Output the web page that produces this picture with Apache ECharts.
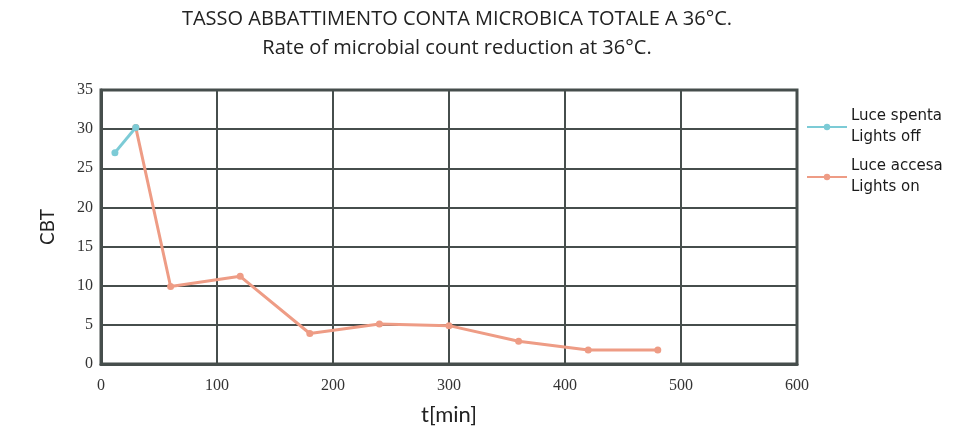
<!DOCTYPE html>
<html>
<head>
<meta charset="utf-8">
<script src="https://cdn.jsdelivr.net/npm/echarts@6/dist/echarts.min.js"></script>
<style>
  html, body { margin: 0; padding: 0; background: #fff; }
  #chart { width: 975px; height: 431px; }
</style>
</head>
<body>
<div id="chart"></div>
<script>
// time in minutes, CBT values
var offTimes = [12, 30];
var offValues = [27.0, 30.2];
var onTimes = [30, 60, 120, 180, 240, 300, 360, 420, 480];
var onValues = [30.2, 9.9, 11.2, 3.9, 5.1, 4.9, 2.9, 1.8, 1.8];
var offName = "Luce spenta\nLights off";
var onName = "Luce accesa\nLights on";

var gridColor = "#464e4c";

function pairs(xs, ys) {
  return xs.map(function (x, i) { return [x, ys[i]]; });
}

var myChart = echarts.init(document.getElementById("chart"));
var option = {
  animation: false,
  title: {
    text: "TASSO ABBATTIMENTO CONTA MICROBICA TOTALE A 36°C.\nRate of microbial count reduction at 36°C.",
    left: 452,
    textAlign: "center",
    top: 0,
    textStyle: {
      fontFamily: "Open Sans",
      fontWeight: "normal",
      fontSize: 20,
      lineHeight: 29,
      color: "#222",
    },
  },
  legend: {
    orient: "vertical",
    left: 806,
    top: 106,
    padding: 0,
    itemWidth: 40,
    itemHeight: 8,
    itemGap: 8,
    data: [offName, onName],
    textStyle: {
      fontFamily: "DejaVu Sans",
      fontSize: 15,
      lineHeight: 21,
      color: "#1a1a1a",
      padding: [0, 0, 0, -1],
    },
  },
  grid: {
    left: 101,
    right: 178,
    top: 90,
    bottom: 66,
    show: true,
    borderColor: gridColor,
    borderWidth: 3,
  },
  xAxis: {
    type: "value",
    min: 0,
    max: 600,
    interval: 100,
    name: "t[min]",
    nameLocation: "middle",
    nameGap: 40,
    nameTextStyle: { fontFamily: "Lato", fontSize: 22, color: "#222" },
    axisLine: { show: true, lineStyle: { color: gridColor, width: 3 } },
    axisTick: { show: false },
    axisLabel: { fontFamily: "Liberation Serif", fontSize: 16, color: "#333", margin: 14 },
    splitLine: { show: true, lineStyle: { color: gridColor, width: 2 } },
  },
  yAxis: {
    type: "value",
    min: 0,
    max: 35,
    interval: 5,
    name: "CBT",
    nameLocation: "middle",
    nameGap: 44,
    nameRotate: 90,
    nameTextStyle: { fontFamily: "Lato", fontSize: 19, color: "#222" },
    axisLine: { show: true, lineStyle: { color: gridColor, width: 3 } },
    axisTick: { show: false },
    axisLabel: { fontFamily: "Liberation Serif", fontSize: 16, color: "#333", margin: 8 },
    splitLine: { show: true, lineStyle: { color: gridColor, width: 2 } },
  },
  series: [
    {
      name: offName,
      type: "line",
      data: pairs(offTimes, offValues),
      symbol: "circle",
      symbolSize: 7,
      lineStyle: { color: "#7ccbd6", width: 3 },
      itemStyle: { color: "#7ccbd6" },
      z: 3,
    },
    {
      name: onName,
      type: "line",
      data: pairs(onTimes, onValues),
      symbol: "circle",
      symbolSize: 7,
      lineStyle: { color: "#ee9c85", width: 3 },
      itemStyle: { color: "#ee9c85" },
      z: 2,
    },
  ],
};
myChart.setOption(option);
</script>
</body>
</html>
